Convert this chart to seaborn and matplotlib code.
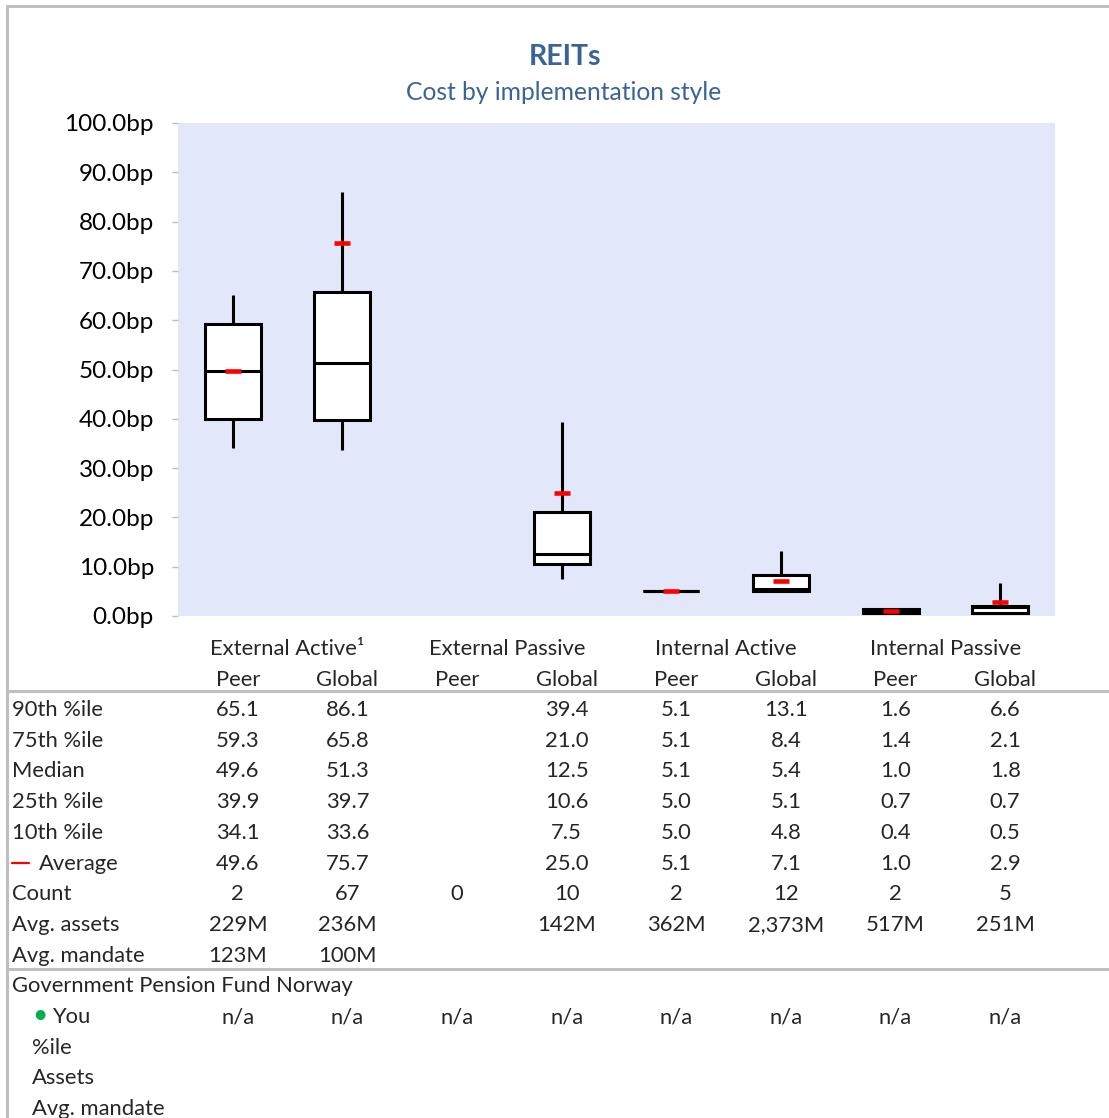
import matplotlib
matplotlib.use("Agg")
import numpy as np
import pandas as pd
import seaborn as sns
import matplotlib.pyplot as plt
import matplotlib.transforms as mtransforms
from matplotlib.lines import Line2D

groups = ["External Active\u00b9", "External Passive", "Internal Active", "Internal Passive"]
subgroups = ["Peer", "Global"]
columns = [g + " " + s for g in groups for s in subgroups]

p90 = [65.1, 86.1, None, 39.4, 5.1, 13.1, 1.6, 6.6]
p75 = [59.3, 65.8, None, 21.0, 5.1, 8.4, 1.4, 2.1]
median = [49.6, 51.3, None, 12.5, 5.1, 5.4, 1.0, 1.8]
p25 = [39.9, 39.7, None, 10.6, 5.0, 5.1, 0.7, 0.7]
p10 = [34.1, 33.6, None, 7.5, 5.0, 4.8, 0.4, 0.5]
average = [49.6, 75.7, None, 25.0, 5.1, 7.1, 1.0, 2.9]
count = [2, 67, 0, 10, 2, 12, 2, 5]
avg_assets = ["229M", "236M", "", "142M", "362M", "2,373M", "517M", "251M"]
avg_mandate = ["123M", "100M", "", "", "", "", "", ""]
you = ["n/a"] * 8

W, H = 1109, 1118
BLUE = "#3A6496"
GREY = "#BFBFBF"

sns.set_theme(style="white")
plt.rcParams["font.family"] = ["Lato", "DejaVu Sans"]

# five values per column -> quartiles of them are the percentiles, min/max the whiskers
rows = []
for i, c in enumerate(columns):
    if p10[i] is None:
        continue
    for v in (p10[i], p25[i], median[i], p75[i], p90[i]):
        rows.append({"col": c, "value": v})
df = pd.DataFrame(rows)
avg_df = pd.DataFrame({"col": columns, "value": [np.nan if a is None else a for a in average]})

fig = plt.figure(figsize=(W / 100, H / 100), dpi=100)
ax = fig.add_axes([178 / W, 1 - 616 / H, 877 / W, 493 / H])
ax.set_facecolor("#E2E8FA")

sns.boxplot(data=df, x="col", y="value", order=columns, whis=(0, 100), showfliers=False,
            showcaps=False, width=0.51, color="white", saturation=1, linecolor="black",
            linewidth=2.2, ax=ax)
sns.pointplot(data=avg_df, x="col", y="value", order=columns, linestyle="none", marker="_",
              color="red", markersize=11.5, markeredgewidth=3.3, errorbar=None, zorder=10, ax=ax)

ax.set_xlim(-0.5, 7.5)
ax.set_ylim(0, 100)
ax.set_xticks([])
ax.set_xlabel("")
ax.set_ylabel("")
yt = np.arange(0, 101, 10)
ax.set_yticks(yt)
ax.set_yticklabels([f"{v:.1f}bp" for v in yt], fontsize=17.5, color="black")
ax.tick_params(axis="y", left=True, length=4.3, width=1, color=GREY, pad=13)
for s in ax.spines.values():
    s.set_visible(False)

# titles
fig.text(565 / W, 1 - 65 / H, "REITs", ha="center", va="baseline", color=BLUE,
         fontsize=20.5, fontweight="bold")
fig.text(564 / W, 1 - 100 / H, "Cost by implementation style", ha="center", va="baseline",
         color=BLUE, fontsize=17.7)

# frame and separators
for (x0, y0, x1, y1) in [(7, 6, W, 6), (7, 6, 7, H), (7, 691, W, 691), (7, 969, W, 969)]:
    fig.add_artist(Line2D([x0 / W, x1 / W], [1 - y0 / H, 1 - y1 / H], color=GREY, lw=2.2,
                          transform=fig.transFigure))

# table
blend = mtransforms.blended_transform_factory(ax.transData, fig.transFigure)
col_tr = mtransforms.offset_copy(blend, fig=fig, x=5, y=0, units="dots")
fs = 15.8

def row_y(k):
    return 1 - (716 + 30.7 * k) / H

for g, name in enumerate(groups):
    fig.text(2 * g + 0.5, 1 - 655 / H, name, ha="center", va="baseline", fontsize=fs, transform=blend)
for i, c in enumerate(columns):
    fig.text(i, 1 - 686 / H, subgroups[i % 2], ha="center", va="baseline", fontsize=fs, transform=col_tr)

def fmt(vals):
    return ["" if v is None else f"{v:.1f}" for v in vals]

table = [
    ("90th %ile", fmt(p90)),
    ("75th %ile", fmt(p75)),
    ("Median", fmt(median)),
    ("25th %ile", fmt(p25)),
    ("10th %ile", fmt(p10)),
    ("Average", fmt(average)),
    ("Count", [str(v) for v in count]),
    ("Avg. assets", avg_assets),
    ("Avg. mandate", avg_mandate),
]
for k, (label, vals) in enumerate(table):
    y = row_y(k)
    if label == "Average":
        fig.add_artist(Line2D([12 / W, 29 / W], [y + 7 / H, y + 7 / H], color="red", lw=1.6,
                              transform=fig.transFigure))
        fig.text(39 / W, y, label, ha="left", va="baseline", fontsize=fs)
    else:
        fig.text(12 / W, y, label, ha="left", va="baseline", fontsize=fs)
    for i, v in enumerate(vals):
        fig.text(i, y, v, ha="center", va="baseline", fontsize=fs, transform=col_tr)

fig.text(12 / W, row_y(9), "Government Pension Fund Norway", ha="left", va="baseline", fontsize=fs)
fig.text(32 / W, row_y(10), "\u2022", color="#00B050", ha="left", va="baseline", fontsize=19)
fig.text(52 / W, row_y(10), "You", ha="left", va="baseline", fontsize=fs)
for i, v in enumerate(you):
    fig.text(i, row_y(10), v, ha="center", va="baseline", fontsize=fs, transform=col_tr)
for k, label in zip((11, 12, 13), ("%ile", "Assets", "Avg. mandate")):
    fig.text(32 / W, row_y(k), label, ha="left", va="baseline", fontsize=fs)

fig.savefig("out.png", dpi=100)
